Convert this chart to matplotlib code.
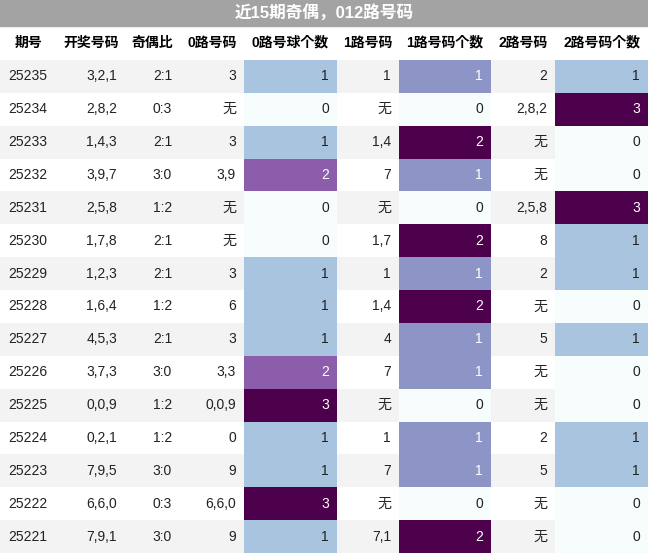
import matplotlib.pyplot as plt
import matplotlib as mpl

plt.rcParams['font.family'] = ['Liberation Sans', 'Noto Sans CJK JP', 'Noto Sans CJK SC', 'DejaVu Sans']

title = "近15期奇偶，012路号码"
headers = ["期号", "开奖号码", "奇偶比", "0路号码", "0路号球个数", "1路号码", "1路号码个数", "2路号码", "2路号码个数"]
periods = ["25235", "25234", "25233", "25232", "25231", "25230", "25229", "25228",
           "25227", "25226", "25225", "25224", "25223", "25222", "25221"]
draws = ["3,2,1", "2,8,2", "1,4,3", "3,9,7", "2,5,8", "1,7,8", "1,2,3", "1,6,4",
         "4,5,3", "3,7,3", "0,0,9", "0,2,1", "7,9,5", "6,6,0", "7,9,1"]
odd_even = ["2:1", "0:3", "2:1", "3:0", "1:2", "2:1", "2:1", "1:2",
            "2:1", "3:0", "1:2", "1:2", "3:0", "0:3", "3:0"]
r0 = ["3", "无", "3", "3,9", "无", "无", "3", "6", "3", "3,3", "0,0,9", "0", "9", "6,6,0", "9"]
c0 = [1, 0, 1, 2, 0, 0, 1, 1, 1, 2, 3, 1, 1, 3, 1]
r1 = ["1", "无", "1,4", "7", "无", "1,7", "1", "1,4", "4", "7", "无", "1", "7", "无", "7,1"]
c1 = [1, 0, 2, 1, 0, 2, 1, 2, 1, 1, 0, 1, 1, 0, 2]
r2 = ["2", "2,8,2", "无", "无", "2,5,8", "8", "2", "无", "5", "无", "无", "2", "5", "无", "无"]
c2 = [1, 3, 0, 0, 3, 1, 1, 0, 1, 0, 0, 1, 1, 0, 0]

edges = [0, 58, 125, 180, 244, 337, 399, 491, 555, 648]
W, H = 648, 553
title_h, head_h = 26, 34
row_h = (H - title_h - head_h) / len(periods)

fig = plt.figure(figsize=(6.48, 5.53), dpi=100)
ax = fig.add_axes([0, 0, 1, 1])
ax.set_xlim(0, W)
ax.set_ylim(H, 0)
ax.axis('off')

ax.add_patch(plt.Rectangle((0, 0), W, title_h, color='#a3a3a3'))
ax.text(W / 2, title_h / 2, title, ha='center', va='center', color='white',
        fontsize=12, fontweight='bold')
for j, h in enumerate(headers):
    ax.text((edges[j] + edges[j + 1]) / 2, title_h + head_h / 2, h, ha='center',
            va='center', fontsize=10, fontweight='bold')

cmap = mpl.colormaps['BuPu']
cols = [periods, draws, odd_even, r0, c0, r1, c1, r2, c2]
count_cols = {4: c0, 6: c1, 8: c2}
for i in range(len(periods)):
    y = title_h + head_h + i * row_h
    bg = '#f3f3f3' if i % 2 == 0 else 'white'
    ax.add_patch(plt.Rectangle((0, y), W, row_h, color=bg, lw=0))
    for j, col in enumerate(cols):
        x0, x1 = edges[j], edges[j + 1]
        color = '#222222'
        if j in count_cols:
            vals = count_cols[j]
            frac = col[i] / max(vals)
            ax.add_patch(plt.Rectangle((x0, y), x1 - x0, row_h, color=cmap(frac), lw=0))
            if frac >= 0.5:
                color = 'white'
        if j == 0:
            ax.text(x0 + 8, y + row_h / 2, str(col[i]), ha='left', va='center',
                    fontsize=10, color=color)
        else:
            ax.text(x1 - 8, y + row_h / 2, str(col[i]), ha='right', va='center',
                    fontsize=10, color=color)

fig.savefig('out.png', dpi=100)
